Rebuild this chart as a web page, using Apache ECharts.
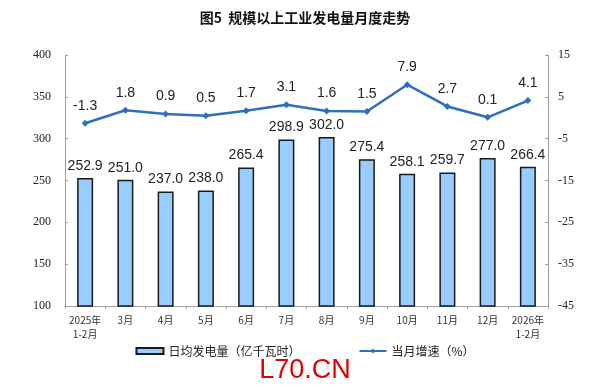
<!DOCTYPE html>
<html><head><meta charset="utf-8">
<script src="https://cdn.jsdelivr.net/npm/echarts@6/dist/echarts.min.js"></script>
<style>html,body{margin:0;padding:0;background:#fff}#c{width:610px;height:389px}</style>
</head><body><div id="c"></div>
<script>
var categories = ['2025年\n1-2月','3月','4月','5月','6月','7月','8月','9月','10月','11月','12月','2026年\n1-2月'];
var dailyOutput = [252.9,251.0,237.0,238.0,265.4,298.9,302.0,275.4,258.1,259.7,277.0,266.4];
var growth = [-1.3,1.8,0.9,0.5,1.7,3.1,1.6,1.5,7.9,2.7,0.1,4.1];
var titleText = '图5  规模以上工业发电量月度走势';
var barName = '日均发电量（亿千瓦时）';
var lineName = '当月增速（%）';

var chart = echarts.init(document.getElementById('c'));
chart.setOption({
  animation:false,
  backgroundColor:'#fff',
  title:{text:titleText,left:'center',top:6,textStyle:{fontFamily:'Noto Sans CJK SC',fontSize:14,fontWeight:'bold',color:'#111'}},
  graphic:[{type:'text',left:'center',top:357,style:{text:'L70.CN',fill:'#e00000',font:'27px "Liberation Sans", Arial'}}],
  legend:{top:340,left:'center',itemGap:58,itemWidth:27,itemHeight:6,
    textStyle:{fontFamily:'Noto Sans CJK SC',fontSize:12,color:'#222'},
    data:[{name:barName,icon:'rect'},{name:lineName}]},
  grid:{left:65,right:62,top:55,bottom:83},
  xAxis:{type:'category',data:categories,
    axisLine:{onZero:false,lineStyle:{color:'#a0a0a0'}},
    axisTick:{show:true,interval:0,length:3,lineStyle:{color:'#a0a0a0'}},
    axisLabel:{interval:0,fontFamily:'Noto Sans CJK SC',fontSize:10,color:'#333',lineHeight:14,margin:7}},
  yAxis:[
    {type:'value',min:100,max:400,interval:50,
     axisLine:{show:true,lineStyle:{color:'#a0a0a0'}},
     axisTick:{show:true,inside:true,length:3,lineStyle:{color:'#a0a0a0'}},
     splitLine:{show:false},
     axisLabel:{fontFamily:'Liberation Serif',fontSize:12,color:'#222',margin:14}},
    {type:'value',min:-45,max:15,interval:10,
     axisLine:{show:true,lineStyle:{color:'#a0a0a0'}},
     axisTick:{show:true,inside:true,length:3,lineStyle:{color:'#a0a0a0'}},
     splitLine:{show:false},
     axisLabel:{fontFamily:'Liberation Serif',fontSize:12,color:'#222',margin:10}}
  ],
  series:[
    {name:barName,type:'bar',data:dailyOutput,barWidth:16,
     itemStyle:{color:'#99ccff',borderColor:'#1a1a1a',borderWidth:1.5},
     label:{show:true,position:'top',distance:5,formatter:function(p){return p.value.toFixed(1);},
       fontFamily:'Liberation Sans',fontSize:14,color:'#222'}},
    {name:lineName,type:'line',yAxisIndex:1,data:growth,
     symbol:'diamond',symbolSize:7,
     lineStyle:{color:'#2e6fc0',width:2.5},itemStyle:{color:'#2e6fc0'},
     label:{show:true,position:'top',distance:7,formatter:function(p){return p.value.toFixed(1);},
       fontFamily:'Liberation Sans',fontSize:14,color:'#222'}}
  ]
});
</script></body></html>
